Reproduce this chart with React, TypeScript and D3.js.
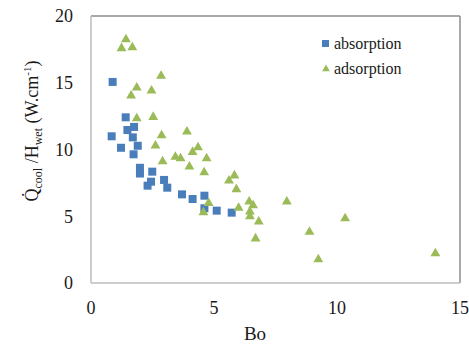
import React from "react";
import * as d3 from "d3";

// Bo number vs. cooling power per wetted height
const absorptionBo = [0.88, 1.41, 1.75, 1.48, 0.84, 1.7, 1.9, 1.22, 1.73, 1.99, 1.99, 2.49, 2.44, 2.3, 2.97, 3.1, 3.7, 4.13, 4.61, 4.61, 5.11, 5.72];
const absorptionQ = [15.06, 12.41, 11.69, 11.46, 10.99, 10.91, 10.28, 10.13, 9.64, 8.63, 8.2, 8.34, 7.59, 7.29, 7.72, 7.14, 6.64, 6.29, 6.54, 5.6, 5.42, 5.27];

const adsorptionBo = [1.42, 1.24, 1.68, 2.85, 1.86, 2.46, 1.63, 2.53, 1.86, 2.87, 3.9, 2.62, 4.35, 4.13, 3.43, 3.64, 4.7, 2.91, 4.0, 4.6, 5.61, 5.83, 5.91, 4.78, 4.57, 6.0, 6.43, 6.59, 6.46, 6.46, 6.82, 6.69, 7.96, 8.88, 10.33, 9.24, 14.0];
const adsorptionQ = [18.24, 17.58, 17.64, 15.51, 14.63, 14.4, 14.04, 12.43, 12.32, 11.05, 11.33, 10.28, 10.16, 9.81, 9.44, 9.33, 9.34, 9.1, 8.71, 8.28, 7.66, 8.05, 7.02, 5.99, 5.28, 5.62, 6.1, 5.81, 5.34, 4.98, 4.59, 3.33, 6.1, 3.82, 4.83, 1.76, 2.21];

const xTicks = [0, 5, 10, 15];
const yTicks = [0, 5, 10, 15, 20];
const seriesNames = ["absorption", "adsorption"];

const BLUE = "#4a7ebb";
const GREEN = "#9bbb59";
const FONT = "'Liberation Serif', 'Times New Roman', Times, 'DejaVu Serif', serif";

export default function App() {
  const W = 469;
  const H = 346;
  const x = d3.scaleLinear().domain([0, 15]).range([91, 460]);
  const y = d3.scaleLinear().domain([0, 20]).range([283, 16]);

  const tri = d3.symbol().type(d3.symbolTriangle).size(42)() as string;
  const legendTri = d3.symbol().type(d3.symbolTriangle).size(26)() as string;

  const absorption = absorptionBo.map((b, i) => ({ b, q: absorptionQ[i] }));
  const adsorption = adsorptionBo.map((b, i) => ({ b, q: adsorptionQ[i] }));

  const [x0, x1] = x.range();
  const [yb, yt] = y.range();
  const txt = { fontFamily: FONT, fill: "#1a1a1a" } as React.CSSProperties;

  return (
    <svg
      width={W}
      height={H}
      style={{ position: "absolute", left: 0, top: 0, background: "#fff", fontFamily: FONT }}
    >
      <rect x={0} y={0} width={W} height={H} fill="#fff" />

      {/* plot frame */}
      <line x1={x0} x2={x1} y1={yt} y2={yt} stroke="#8c8c8c" strokeWidth={1.5} />
      <line x1={x1} x2={x1} y1={yt} y2={yb} stroke="#8c8c8c" strokeWidth={1.5} />
      <line x1={x0} x2={x0} y1={yt} y2={yb} stroke="#bdbdbd" strokeWidth={1.5} />
      <line x1={x0} x2={x1} y1={yb} y2={yb} stroke="#bdbdbd" strokeWidth={1.5} />

      {/* y tick labels */}
      {yTicks.map((t) => (
        <text key={"y" + t} x={73} y={y(t)} dy="0.35em" textAnchor="end" fontSize={18} style={txt}>
          {t}
        </text>
      ))}

      {/* x tick labels */}
      {xTicks.map((t) => (
        <text key={"x" + t} x={x(t)} y={314} textAnchor="middle" fontSize={18} style={txt}>
          {t}
        </text>
      ))}

      {/* axis titles */}
      <text x={255} y={340} textAnchor="middle" fontSize={19} style={txt}>
        Bo
      </text>
      <text transform="translate(38,131) rotate(-90)" textAnchor="middle" fontSize={18} style={txt}>
        <tspan>{"Q\u0307"}</tspan>
        <tspan fontSize={12} dy={4}>cool</tspan>
        <tspan dy={-4}>{" /H"}</tspan>
        <tspan fontSize={12} dy={4}>wet</tspan>
        <tspan dy={-4}>{" (W.cm"}</tspan>
        <tspan fontSize={11} dy={-7}>-1</tspan>
        <tspan dy={7}>)</tspan>
      </text>

      {/* absorption squares */}
      {absorption.map((d, i) => (
        <rect key={"a" + i} x={x(d.b) - 4} y={y(d.q) - 4} width={8} height={8} fill={BLUE} />
      ))}

      {/* adsorption triangles */}
      {adsorption.map((d, i) => (
        <path key={"d" + i} d={tri} transform={`translate(${x(d.b)},${y(d.q)})`} fill={GREEN} />
      ))}

      {/* legend */}
      <rect x={322} y={40} width={7} height={7} fill={BLUE} />
      <text x={334} y={49} fontSize={16} style={txt}>
        {seriesNames[0]}
      </text>
      <path d={legendTri} transform="translate(326,69)" fill={GREEN} />
      <text x={334} y={74} fontSize={16} style={txt}>
        {seriesNames[1]}
      </text>
    </svg>
  );
}
